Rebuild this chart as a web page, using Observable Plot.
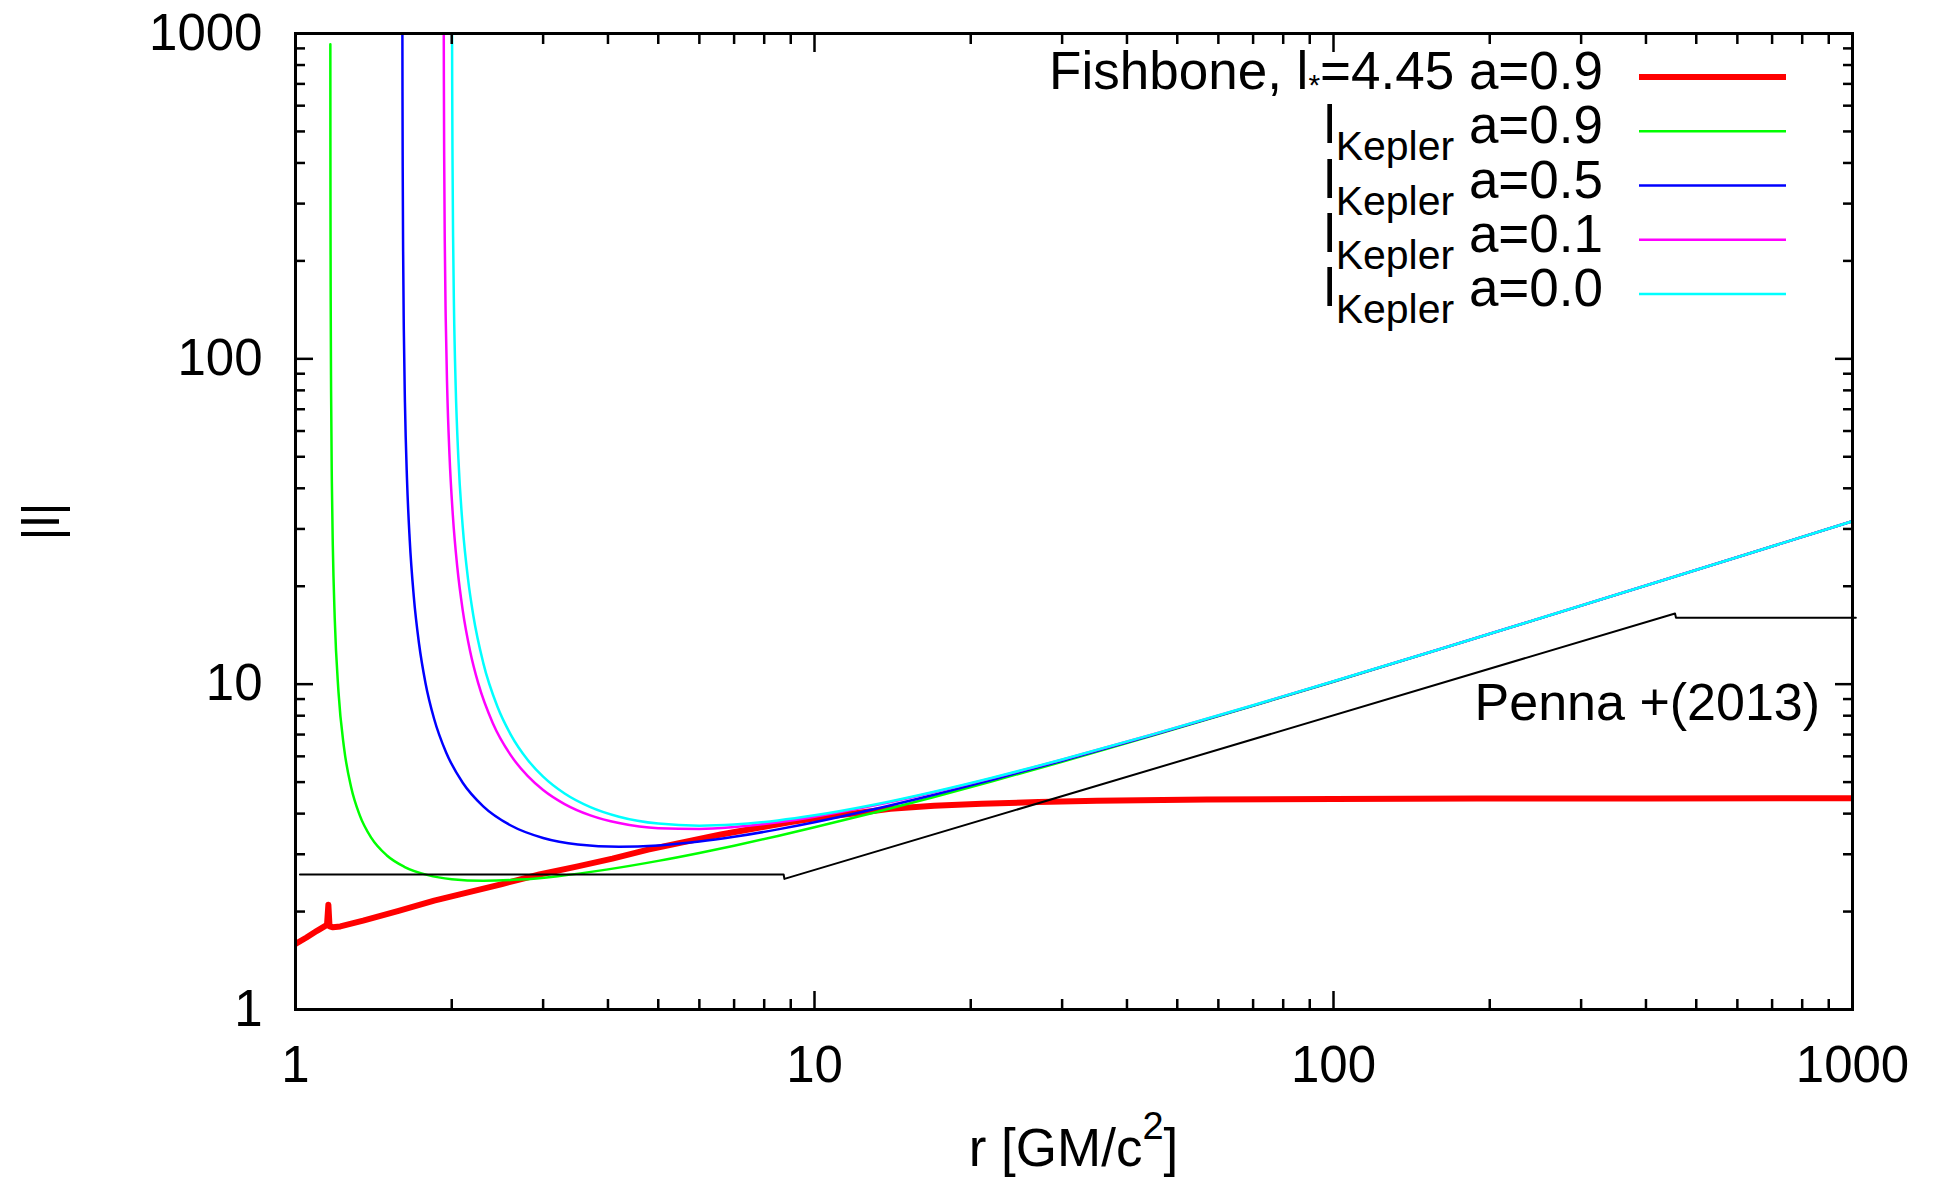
<!DOCTYPE html>
<html>
<head>
<meta charset="utf-8">
<script src="https://cdn.jsdelivr.net/npm/d3@7"></script>
<script src="https://cdn.jsdelivr.net/npm/@observablehq/plot@0.6"></script>
<style>
  html, body { margin: 0; padding: 0; background: #fff; }
  #chart { position: relative; width: 1941px; height: 1177px; }
</style>
</head>
<body>
<div id="chart"></div>
<script>
// Angular momentum |l| versus radius r [GM/c^2]

// Fishbone torus, l* = 4.45, a = 0.9
const fishR = [1.0, 1.05, 1.1, 1.15, 1.157, 1.163, 1.18, 1.22, 1.35, 1.58, 1.85, 2.15, 2.5, 2.95, 3.48, 4.08, 4.78, 5.6, 6.6, 7.8, 9.0, 10.5, 12, 14, 17, 21, 27, 35, 57, 100, 189, 400, 1000];
const fishL = [1.59, 1.665, 1.745, 1.82, 2.10, 1.80, 1.79, 1.80, 1.875, 2.01, 2.16, 2.29, 2.43, 2.60, 2.75, 2.91, 3.10, 3.27, 3.45, 3.62, 3.77, 3.91, 4.01, 4.14, 4.23, 4.29, 4.34, 4.38, 4.42, 4.44, 4.45, 4.455, 4.46];

// Keplerian angular momentum, a = 0.9
const keplerR_a09 = [1.16717, 1.1675, 1.168, 1.169, 1.171, 1.175, 1.18, 1.19, 1.21, 1.24, 1.28, 1.33, 1.4, 1.5, 1.62, 1.8, 2.0, 2.3, 2.7, 3.2, 4, 5, 6, 7, 8.5, 10, 13, 17, 22, 30, 45, 70, 100, 160, 250, 400, 630, 1000];
const keplerL_a09 = [926, 480, 278.1, 151.6, 80.05, 41.86, 26.71, 16.01, 9.487, 6.391, 4.823, 3.951, 3.368, 2.974, 2.746, 2.588, 2.516, 2.487, 2.508, 2.570, 2.696, 2.863, 3.029, 3.188, 3.416, 3.631, 4.027, 4.500, 5.030, 5.776, 6.959, 8.574, 10.177, 12.793, 15.928, 20.094, 25.175, 31.683];

// Keplerian angular momentum, a = 0.5
const keplerR_a05 = [1.6066, 1.6075, 1.609, 1.612, 1.617, 1.625, 1.64, 1.66, 1.69, 1.73, 1.78, 1.85, 1.95, 2.1, 2.3, 2.6, 3.0, 3.5, 4.2, 5, 6, 7, 8.5, 10, 13, 17, 22, 30, 45, 70, 100, 160, 250, 400, 630, 1000];
const keplerL_a05 = [1151, 664.1, 389.6, 214.0, 122.8, 73.56, 42.57, 27.72, 18.62, 13.31, 10.09, 7.813, 6.174, 4.979, 4.213, 3.678, 3.368, 3.215, 3.163, 3.193, 3.282, 3.395, 3.578, 3.763, 4.125, 4.573, 5.085, 5.815, 6.986, 8.591, 10.189, 12.800, 15.933, 20.097, 25.178, 31.685];

// Keplerian angular momentum, a = 0.1
const keplerR_a01 = [1.930, 1.9315, 1.934, 1.939, 1.947, 1.96, 1.98, 2.01, 2.05, 2.1, 2.17, 2.25, 2.4, 2.6, 2.8, 3.0, 3.3, 3.7, 4.2, 5, 6, 7, 8.5, 10, 13, 17, 22, 30, 45, 70, 100, 160, 250, 400, 630, 1000];
const keplerL_a01 = [1256, 721.3, 422.7, 231.8, 135.2, 81.17, 50.78, 32.99, 22.88, 16.86, 12.63, 10.05, 7.587, 6.040, 5.224, 4.729, 4.281, 3.951, 3.741, 3.608, 3.589, 3.637, 3.762, 3.913, 4.233, 4.652, 5.144, 5.858, 7.013, 8.608, 10.201, 12.807, 15.938, 20.100, 25.180, 31.686];

// Keplerian angular momentum, a = 0.0
const keplerR_a00 = [2.002, 2.004, 2.007, 2.012, 2.02, 2.035, 2.06, 2.1, 2.15, 2.2, 2.3, 2.45, 2.6, 2.8, 3.0, 3.3, 3.7, 4.2, 5, 6, 7, 8.5, 10, 13, 17, 22, 30, 45, 70, 100, 160, 250, 400, 630, 1000];
const keplerL_a00 = [1416, 709.2, 406.2, 237.8, 143.5, 82.94, 49.28, 30.43, 21.02, 16.32, 11.63, 8.522, 6.987, 5.857, 5.196, 4.611, 4.187, 3.912, 3.727, 3.674, 3.704, 3.813, 3.953, 4.261, 4.673, 5.159, 5.868, 7.020, 8.613, 10.204, 12.809, 15.939, 20.101, 25.180, 31.686];

// Penna et al. (2013) profile
const pennaR = [1.02, 8.72, 8.75, 455, 457, 1015];
const pennaL = [2.60, 2.60, 2.52, 16.49, 16.0, 16.0];

// Axis ticks
const majorTicks = [1, 10, 100, 1000];
const minorTicks = [2, 3, 4, 5, 6, 7, 8, 9, 20, 30, 40, 50, 60, 70, 80, 90, 200, 300, 400, 500, 600, 700, 800, 900];

// Series labels and colours
const keplerSpins = ["0.9", "0.5", "0.1", "0.0"];
const keplerColors = ["#00ff00", "#0000ff", "#ff00ff", "#00ffff"];
const fishboneColor = "#ff0000";
const fishboneLStar = "4.45";
const fishboneSpin = "0.9";
const pennaLabel = "Penna +(2013)";
const xLabel = ["r [GM/c", "2", "]"];
const yLabel = "|l|";

const FONT = "'Liberation Sans', Arial, Helvetica, sans-serif";

const toRows = (rs, ls) => rs.map((r, i) => ({r, l: ls[i]}));
const fishRows = toRows(fishR, fishL);
const keplerRows = [
  toRows(keplerR_a09, keplerL_a09),
  toRows(keplerR_a05, keplerL_a05),
  toRows(keplerR_a01, keplerL_a01),
  toRows(keplerR_a00, keplerL_a00)
];
const pennaRows = toRows(pennaR, pennaL);

const W = 1941, H = 1177;
const M = {top: 33, right: 89, bottom: 168, left: 295};

function tickMarks() {
  const marks = [];
  for (const anchor of ["bottom", "top"]) {
    marks.push(Plot.axisX({anchor, ticks: majorTicks, tickSize: -18, tickFormat: () => "", strokeWidth: 2.5, label: null}));
    marks.push(Plot.axisX({anchor, ticks: minorTicks, tickSize: -10, tickFormat: () => "", strokeWidth: 2.5, label: null}));
  }
  for (const anchor of ["left", "right"]) {
    marks.push(Plot.axisY({anchor, ticks: majorTicks, tickSize: -18, tickFormat: () => "", strokeWidth: 2.5, label: null}));
    marks.push(Plot.axisY({anchor, ticks: minorTicks, tickSize: -10, tickFormat: () => "", strokeWidth: 2.5, label: null}));
  }
  return marks;
}

const chart = Plot.plot({
  width: W,
  height: H,
  marginTop: M.top,
  marginRight: M.right,
  marginBottom: M.bottom,
  marginLeft: M.left,
  style: {fontFamily: FONT, background: "white", color: "black"},
  x: {type: "log", domain: [1, 1000]},
  y: {type: "log", domain: [1, 1000]},
  marks: [
    Plot.line(fishRows, {x: "r", y: "l", stroke: fishboneColor, strokeWidth: 6, clip: true}),
    ...keplerRows.map((rows, i) =>
      Plot.line(rows, {x: "r", y: "l", stroke: keplerColors[i], strokeWidth: 2.5, curve: "monotone-x", clip: true})
    ),
    Plot.line(pennaRows, {x: "r", y: "l", stroke: "black", strokeWidth: 2}),
    Plot.text([pennaLabel], {x: 866, y: 8.76, text: d => d, textAnchor: "end", lineAnchor: "middle", fontSize: 52, fill: "black"}),
    ...tickMarks(),
    Plot.axisX({anchor: "bottom", ticks: majorTicks, tickSize: 0, tickPadding: 36, tickFormat: d => String(d), fontSize: 51, label: null}),
    Plot.axisY({anchor: "left", ticks: majorTicks, tickSize: 0, tickPadding: 33, tickFormat: d => String(d), fontSize: 51, label: null}),
    Plot.text([yLabel], {frameAnchor: "left", dx: -253, rotate: -90, text: d => d, textAnchor: "middle", lineAnchor: "middle", fontSize: 52, fill: "black"}),
    Plot.frame({stroke: "black", strokeWidth: 3})
  ]
});

document.getElementById("chart").append(chart);

// x-axis title with superscript
const svg = d3.select(chart);
const xt = svg.append("text")
  .attr("x", M.left + (W - M.left - M.right) / 2)
  .attr("y", 1166)
  .attr("text-anchor", "middle")
  .attr("font-family", FONT)
  .attr("font-size", 53)
  .attr("fill", "black");
xt.append("tspan").text(xLabel[0]);
xt.append("tspan").attr("font-size", 38).attr("dy", -27).text(xLabel[1]);
xt.append("tspan").attr("dy", 27).text(xLabel[2]);

// Key, top right inside the frame
const key = svg.append("g").attr("font-family", FONT).attr("fill", "black");
const keyTextRight = 1603, keySampleX1 = 1639, keySampleX2 = 1786, keyTop = 77, keyStep = 54.25;
const keyEntries = [
  {color: fishboneColor, width: 6, fishbone: true},
  ...keplerSpins.map((s, i) => ({color: keplerColors[i], width: 2.5, spin: s}))
];
keyEntries.forEach((e, i) => {
  const y = keyTop + i * keyStep;
  key.append("line")
    .attr("x1", keySampleX1).attr("x2", keySampleX2)
    .attr("y1", y).attr("y2", y)
    .attr("stroke", e.color).attr("stroke-width", e.width);
  const t = key.append("text")
    .attr("x", keyTextRight).attr("y", y + 12)
    .attr("text-anchor", "end")
    .attr("font-size", 53);
  if (e.fishbone) {
    t.append("tspan").text("Fishbone, l");
    t.append("tspan").attr("font-size", 30).attr("dy", 6).text("*");
    t.append("tspan").attr("dy", -6).text(`=${fishboneLStar} a=${fishboneSpin}`);
  } else {
    t.append("tspan").text("l");
    t.append("tspan").attr("font-size", 41).attr("dy", 17).text("Kepler");
    t.append("tspan").attr("dy", -17).text(` a=${e.spin}`);
  }
});
</script>
</body>
</html>
